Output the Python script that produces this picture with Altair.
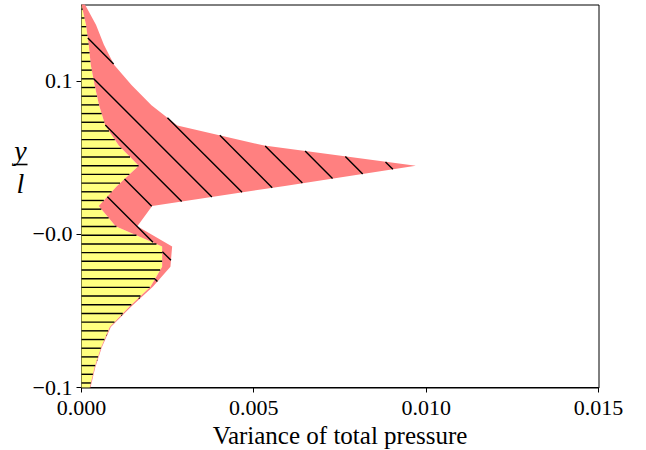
import altair as alt
import numpy as np
import pandas as pd

# Cross-stream position y/l, bottom to top
y_pos = [-0.1000, -0.0868, -0.0737, -0.0605, -0.0474, -0.0342, -0.0211,
         -0.0079, 0.0053, 0.0184, 0.0316, 0.0447, 0.0579, 0.0711, 0.0842,
         0.0974, 0.1105, 0.1237, 0.1368, 0.1500]
# Edge of the yellow band (first contribution)
var_inner = [0.00024, 0.00038, 0.00057, 0.00082, 0.00138, 0.00200, 0.00234,
             0.00234, 0.00099, 0.00050, 0.00103, 0.00166, 0.00108, 0.00069,
             0.00051, 0.00038, 0.00027, 0.00021, 0.00013, 0.00000]
# Edge of the red band (total)
var_outer = [0.00026, 0.00040, 0.00059, 0.00085, 0.00143, 0.00207, 0.00258,
             0.00263, 0.00162, 0.00205, 0.00590, 0.00970, 0.00530, 0.00278,
             0.00203, 0.00145, 0.00095, 0.00065, 0.00042, 0.00010]

x_ticks = [0.0, 0.005, 0.010, 0.015]
y_ticks = [-0.1, 0.0, 0.1]
X_MIN, X_MAX = 0.0, 0.015
Y_MIN, Y_MAX = -0.1, 0.15

W, H = 517, 383
FONT = "Liberation Serif"

yy = np.array(y_pos)
inn = np.array(var_inner)
out = np.array(var_outer)


def y_of(Y):
    return Y_MAX - np.asarray(Y) / H * (Y_MAX - Y_MIN)


def x_of(X):
    return X_MIN + np.asarray(X) / W * (X_MAX - X_MIN)


band = pd.DataFrame({"y": y_pos, "inner": var_inner, "outer": var_outer,
                     "zero": [0.0] * len(y_pos)})

# Horizontal hatch lines inside the yellow band
h_rows = []
Y = 4.8
while Y < H:
    yv = float(y_of(Y))
    xi = float(np.interp(yv, yy, inn))
    if xi > 1e-5:
        h_rows.append({"x": 0.0, "x2": xi, "y": yv})
    Y += 8.69
h_hatch = pd.DataFrame(h_rows)

# Diagonal hatch lines clipped to the red band
d_rows = []
step = 34.77
c = 7.5 - step * 12
Ys = np.arange(0.0, H, 0.2)
while c < W:
    Xs = Ys + c
    ok = (Xs >= 0) & (Xs <= W)
    yv = y_of(Ys)
    xv = x_of(Xs)
    i = np.interp(yv, yy, inn)
    o = np.interp(yv, yy, out)
    inside = ok & (xv >= i) & (xv <= o)
    edges = np.flatnonzero(np.diff(np.concatenate([[0], inside.astype(int), [0]])))
    for s, e in zip(edges[::2], edges[1::2]):
        if e - s >= 2:
            d_rows.append({"x": float(xv[s]), "x2": float(xv[e - 1]),
                           "y": float(yv[s]), "y2": float(yv[e - 1])})
    c += step
d_hatch = pd.DataFrame(d_rows)

x_scale = alt.Scale(domain=[X_MIN, X_MAX], nice=False, zero=False)
y_scale = alt.Scale(domain=[Y_MIN, Y_MAX], nice=False, zero=False)

x_axis = alt.Axis(values=x_ticks, format=".3f", title="Variance of total pressure",
                  grid=False, tickSize=5, labelPadding=5, labelFontSize=22,
                  labelFont=FONT, labelColor="black", titleFont=FONT,
                  titleFontSize=25, titleFontWeight="normal", titleColor="black",
                  titleBaseline="alphabetic", titleY=56, domainColor="black",
                  tickColor="black", labelFlush=False, translate=0)
y_axis = alt.Axis(values=y_ticks, title=None, grid=False, tickSize=5,
                  labelPadding=4, labelFontSize=22, labelFont=FONT,
                  labelColor="black", domainColor="black", tickColor="black",
                  translate=0,
                  labelExpr="datum.value == 0 ? '\u22120.0' : replace(format(datum.value, '.1f'), '-', '\u2212')")

yellow = alt.Chart(band).mark_area(orient="horizontal", color="#FFFF80", opacity=1).encode(
    y=alt.Y("y:Q", scale=y_scale, axis=y_axis),
    x=alt.X("zero:Q", scale=x_scale, axis=x_axis),
    x2="inner:Q",
)
red = alt.Chart(band).mark_area(orient="horizontal", color="#FF8080", opacity=1).encode(
    y=alt.Y("y:Q", scale=y_scale, axis=y_axis),
    x=alt.X("inner:Q", scale=x_scale, axis=x_axis),
    x2="outer:Q",
)
h_lines = alt.Chart(h_hatch).mark_rule(color="black", strokeWidth=1.4).encode(
    y=alt.Y("y:Q", scale=y_scale, axis=y_axis),
    x=alt.X("x:Q", scale=x_scale, axis=x_axis),
    x2="x2:Q",
)
d_lines = alt.Chart(d_hatch).mark_rule(color="black", strokeWidth=1.4).encode(
    y=alt.Y("y:Q", scale=y_scale, axis=y_axis),
    y2="y2:Q",
    x=alt.X("x:Q", scale=x_scale, axis=x_axis),
    x2="x2:Q",
)

# y/l fraction as the vertical axis label
one = pd.DataFrame({"num": ["y"], "den": ["l"]})
num = alt.Chart(one).mark_text(font=FONT, fontSize=28, fontStyle="italic",
                               baseline="alphabetic", align="center", color="black").encode(
    text="num:N", x=alt.value(-61), y=alt.value(155))
den = alt.Chart(one).mark_text(font=FONT, fontSize=28, fontStyle="italic",
                               baseline="alphabetic", align="center", color="black").encode(
    text="den:N", x=alt.value(-61), y=alt.value(188.5))
bar = alt.Chart(one).mark_rule(color="black", strokeWidth=1.6).encode(
    x=alt.value(-67.5), x2=alt.value(-54), y=alt.value(160))

chart = alt.layer(yellow, red, h_lines, d_lines, num, den, bar).properties(
    width=W, height=H,
    padding={"left": 81.5, "top": 4.5, "right": 47.5, "bottom": 62.5},
    autosize=alt.AutoSizeParams(type="none"),
).configure(background="white").configure_view(stroke="black", strokeWidth=1)

chart.save("out.html", embed_options={"renderer": "svg", "actions": False})
